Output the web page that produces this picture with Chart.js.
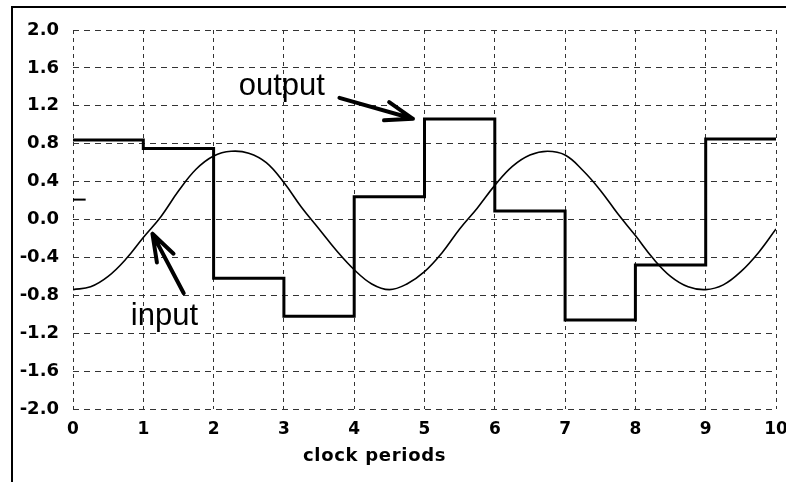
<!DOCTYPE html>
<html>
<head>
<meta charset="utf-8">
<script src="https://cdn.jsdelivr.net/npm/chart.js@4.4.1/dist/chart.umd.min.js"></script>
<style>
  html, body { margin: 0; padding: 0; background: #fff; }
  #wrap { position: relative; width: 786px; height: 482px; overflow: hidden; }
  #frame { position: absolute; left: 11px; top: 6px; width: 800px; height: 500px;
           border-top: 2px solid #000; border-left: 2px solid #000; }
  #chart { position: absolute; left: 0; top: 0; }
</style>
</head>
<body>
<div id="wrap">
  <div id="frame"></div>
  <canvas id="chart" width="786" height="482"></canvas>
</div>
<script>
// clock period boundaries and the held output level in each period
const clockTicks = [0, 1, 2, 3, 4, 5, 6, 7, 8, 9, 10];
const outputLevels = [0.84, 0.75, -0.62, -1.02, 0.24, 1.06, 0.09, -1.06, -0.48, 0.85];

// input signal, read every quarter clock period
const inputTimes = [
  0, 0.25, 0.5, 0.75, 1, 1.25, 1.5, 1.75, 2, 2.25, 2.5, 2.75, 3, 3.25, 3.5, 3.75,
  4, 4.25, 4.5, 4.75, 5, 5.25, 5.5, 5.75, 6, 6.25, 6.5, 6.75, 7, 7.25, 7.5, 7.75,
  8, 8.25, 8.5, 8.75, 9, 9.25, 9.5, 9.75, 10
];
const inputValues = [
  -0.74, -0.71, -0.60, -0.42, -0.19, 0.03, 0.30, 0.53, 0.67, 0.72, 0.70, 0.60, 0.39, 0.13, -0.10, -0.33,
  -0.53, -0.68, -0.74, -0.68, -0.55, -0.35, -0.10, 0.12, 0.36, 0.56, 0.68, 0.72, 0.68, 0.52, 0.31, 0.06,
  -0.17, -0.41, -0.60, -0.71, -0.74, -0.69, -0.55, -0.35, -0.10
];

const yTickLabels = ['-2.0', '-1.6', '-1.2', '-0.8', '-0.4', '0.0', '0.4', '0.8', '1.2', '1.6', '2.0'];

// output holds each level until the next clock edge
const outputPoints = clockTicks.map((t, i) => ({ x: t, y: outputLevels[Math.min(i, outputLevels.length - 1)] }));
const inputPoints = inputTimes.map((t, i) => ({ x: t, y: inputValues[i] }));

const tickFont = { family: '"DejaVu Sans"', size: 18, weight: 'bold' };

// labels, arrows and axis title drawn on top of the chart (positions in data units)
const annotations = {
  id: 'annotations',
  afterDraw(chart) {
    const { ctx, scales: { x, y } } = chart;
    const px = (t) => x.getPixelForValue(t);
    const py = (v) => y.getPixelForValue(v);

    ctx.save();
    ctx.fillStyle = '#000';
    ctx.strokeStyle = '#000';

    ctx.font = '31px "Liberation Sans", Arial, sans-serif';
    ctx.textAlign = 'center';
    ctx.textBaseline = 'alphabetic';
    ctx.fillText('output', px(2.97), py(1.31));
    ctx.fillText('input', px(1.30), py(-1.11));

    const arrow = (t0, v0, t1, v1) => {
      const x0 = px(t0), y0 = py(v0), x1 = px(t1), y1 = py(v1);
      const a = Math.atan2(y1 - y0, x1 - x0);
      const len = 29, spread = 0.33;
      ctx.lineWidth = 4;
      ctx.lineCap = 'round';
      ctx.lineJoin = 'round';
      ctx.beginPath();
      ctx.moveTo(x0, y0);
      ctx.lineTo(x1, y1);
      ctx.moveTo(x1 - len * Math.cos(a - spread), y1 - len * Math.sin(a - spread));
      ctx.lineTo(x1, y1);
      ctx.lineTo(x1 - len * Math.cos(a + spread), y1 - len * Math.sin(a + spread));
      ctx.stroke();
    };
    arrow(3.79, 1.284, 4.836, 1.063);
    arrow(1.575, -0.778, 1.13, -0.151);

    // small stray mark near the left edge
    ctx.lineWidth = 2;
    ctx.lineCap = 'butt';
    ctx.beginPath();
    ctx.moveTo(px(0), py(0.21));
    ctx.lineTo(px(0.18), py(0.21));
    ctx.stroke();

    ctx.font = 'bold 18px "DejaVu Sans", sans-serif';
    ctx.letterSpacing = '0.7px';
    ctx.textBaseline = 'middle';
    ctx.fillText('clock periods', px(4.29), 456);
    ctx.restore();
  }
};

new Chart(document.getElementById('chart'), {
  type: 'line',
  data: {
    datasets: [
      {
        label: 'input',
        data: inputPoints,
        borderColor: '#000',
        borderWidth: 1.6,
        pointRadius: 0,
        tension: 0.4,
        fill: false,
      },
      {
        label: 'output',
        data: outputPoints,
        borderColor: '#000',
        borderWidth: 3,
        pointRadius: 0,
        stepped: 'before',
        fill: false,
      },
    ],
  },
  options: {
    responsive: false,
    animation: false,
    layout: { padding: { left: 0, right: 10, top: 30, bottom: 0 } },
    plugins: { legend: { display: false }, tooltip: { enabled: false } },
    scales: {
      x: {
        type: 'linear',
        min: 0,
        max: 10,
        border: { display: false, dash: [4, 4] },
        grid: { color: '#333', lineWidth: 1, drawTicks: false },
        ticks: {
          stepSize: 1,
          padding: 10,
          color: '#000',
          font: { family: '"DejaVu Sans"', size: 17, weight: 'bold' },
          maxRotation: 0,
          callback: (v) => (clockTicks.includes(v) ? String(v) : ''),
        },
        afterFit: (scale) => {
          scale.height = 73;
          scale.paddingLeft = 0;
          scale.paddingRight = 0;
        },
      },
      y: {
        min: -2,
        max: 2,
        border: { display: false, dash: [6, 5] },
        grid: { color: '#333', lineWidth: 1, drawTicks: false },
        ticks: {
          stepSize: 0.4,
          padding: 14,
          color: '#000',
          font: tickFont,
          callback: (v) => yTickLabels[Math.round((v + 2) / 0.4)],
        },
        afterFit: (scale) => {
          scale.width = 73;
          scale.paddingTop = 0;
          scale.paddingBottom = 0;
        },
      },
    },
  },
  plugins: [annotations],
});
</script>
</body>
</html>
